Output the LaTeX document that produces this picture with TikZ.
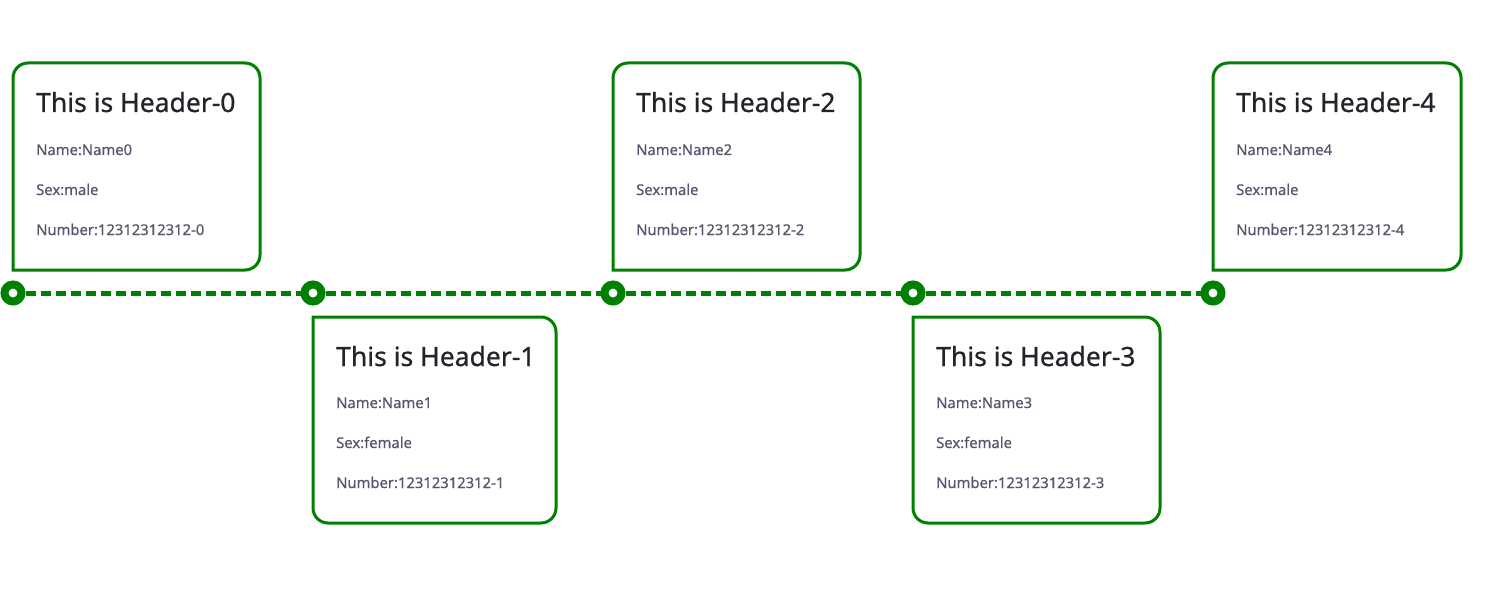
\documentclass[tikz,border=0pt]{standalone}
\usepackage{fontspec}
\setmainfont{Noto Sans}
\newfontfamily\hdrfont{Noto Sans}[FakeBold=0.7]
\newfontfamily\itemfont{Noto Sans}[FakeBold=0.25]
\definecolor{tlgreen}{RGB}{0,128,0}
\definecolor{hdrcol}{RGB}{33,37,41}
\definecolor{bodycol}{RGB}{90,82,110}
\begin{document}
\begin{tikzpicture}[x=1pt,y=-1pt,
  hdr/.style={anchor=base west, font=\hdrfont\fontsize{26.5}{31}\selectfont, text=hdrcol, inner sep=0pt},
  item/.style={anchor=base west, font=\itemfont\fontsize{14.8}{17}\selectfont, text=bodycol, inner sep=0pt},
  card/.style={draw=tlgreen, line width=3pt},
  dot/.style={circle, draw=tlgreen, fill=white, line width=8pt, minimum size=17pt, inner sep=0pt},
  tl/.style={draw=tlgreen, line width=5pt, dash pattern=on 10pt off 5pt}]
\useasboundingbox[fill=white] (0,0) rectangle (1496,596);
% timeline dots
\node[dot] (a0) at (13,293) {};
\node[dot] (a1) at (313,293) {};
\node[dot] (a2) at (613,293) {};
\node[dot] (a3) at (913,293) {};
\node[dot] (a4) at (1213,293) {};
% timeline segments
\draw[tl] (a0) -- (a1);
\draw[tl] (a1) -- (a2);
\draw[tl] (a2) -- (a3);
\draw[tl] (a3) -- (a4);
% top cards
\foreach \i/\L/\R in {0/13/260, 2/613/860, 4/1213/1461}{
  \draw[card] (\L,270) [rounded corners=15pt] -- (\L,63) -- (\R,63) -- (\R,270) [sharp corners] -- cycle;
  \node[hdr] (h\i) at (\L+23,112) {This is Header-\i};
  \node[item] (n\i) at (\L+23,155) {Name:Name\i};
  \node[item] (s\i) at (\L+23,195) {Sex:male};
  \node[item] (u\i) at (\L+23,235) {Number:12312312312-\i};
}
% bottom cards
\foreach \i/\L/\R in {1/313/556, 3/913/1160}{
  \draw[card] (\L,317) [rounded corners=15pt] -- (\R,317) -- (\R,523) -- (\L,523) [sharp corners] -- cycle;
  \node[hdr] (h\i) at (\L+23,366) {This is Header-\i};
  \node[item] (n\i) at (\L+23,408) {Name:Name\i};
  \node[item] (s\i) at (\L+23,448) {Sex:female};
  \node[item] (u\i) at (\L+23,488) {Number:12312312312-\i};
}
\end{tikzpicture}
\end{document}
